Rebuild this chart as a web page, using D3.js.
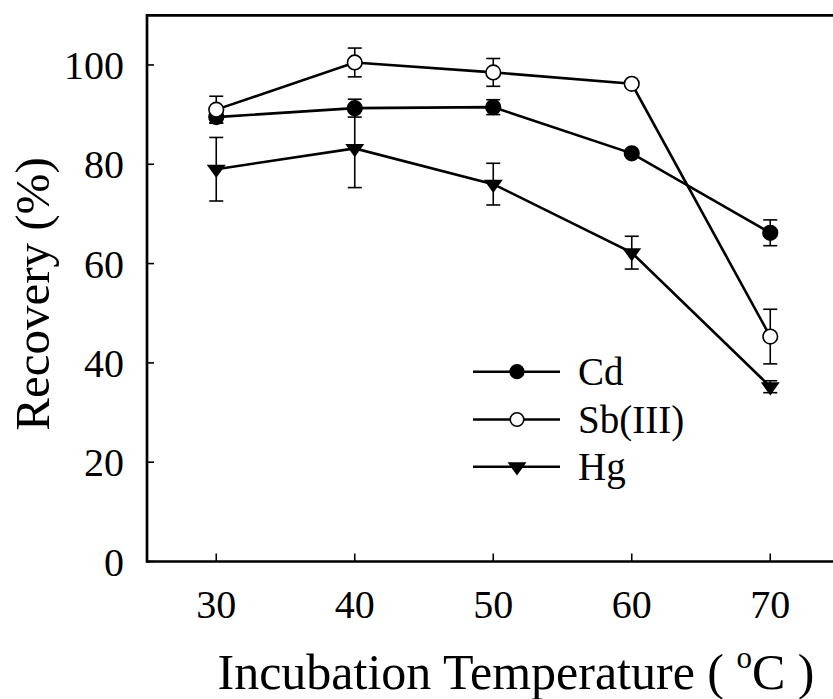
<!DOCTYPE html>
<html>
<head>
<meta charset="utf-8">
<script src="https://cdn.jsdelivr.net/npm/d3@7"></script>
<style>
  body { margin: 0; background: #fff; }
  svg { display: block; }
  text { font-family: "Liberation Serif", "Times New Roman", serif; fill: #000; }
</style>
</head>
<body>
<div id="chart"></div>
<script>
(function() {
  "use strict";

  // data
  var temps = [30, 40, 50, 60, 70];
  var cdValues = [89.5, 91.3, 91.5, 82.2, 66.2];
  var cdErrors = [1.2, 1.8, 1.5, 0.5, 2.6];
  var sbValues = [91.0, 100.5, 98.5, 96.2, 45.3];
  var sbErrors = [2.7, 2.9, 2.8, 0.5, 5.5];
  var hgValues = [79.0, 83.2, 76.0, 62.2, 35.2];
  var hgErrors = [6.4, 7.9, 4.2, 3.3, 1.2];
  var xTicks = [30, 40, 50, 60, 70];
  var yTicks = [0, 20, 40, 60, 80, 100];
  var seriesNames = ["Cd", "Sb(III)", "Hg"];

  var width = 833, height = 699;

  var svg = d3.select("#chart").append("svg")
    .attr("width", width)
    .attr("height", height);

  var x = d3.scaleLinear().domain([25, 75]).range([147, 839.5]);
  var y = d3.scaleLinear().domain([0, 110]).range([561.5, 15.3]);

  // down-pointing triangle, centred on its centroid
  var triangleDown = {
    draw: function(ctx, size) {
      var w = 9.5;
      ctx.moveTo(-w, -4.4);
      ctx.lineTo(w, -4.4);
      ctx.lineTo(0, 8.8);
      ctx.closePath();
    }
  };

  var series = [
    {name: seriesNames[0], values: cdValues, errors: cdErrors, marker: "circle", fill: "#000"},
    {name: seriesNames[1], values: sbValues, errors: sbErrors, marker: "circle", fill: "#fff"},
    {name: seriesNames[2], values: hgValues, errors: hgErrors, marker: "triangle", fill: "#000"}
  ];

  // frame: left axis, top line, bottom axis (open to the right)
  svg.append("line")
    .attr("x1", x(25)).attr("x2", width)
    .attr("y1", y(110)).attr("y2", y(110))
    .attr("stroke", "#000").attr("stroke-width", 2.7);
  svg.append("line")
    .attr("x1", x(25)).attr("x2", width)
    .attr("y1", y(0)).attr("y2", y(0))
    .attr("stroke", "#000").attr("stroke-width", 2.7);
  svg.append("line")
    .attr("x1", x(25)).attr("x2", x(25))
    .attr("y1", y(110) - 1.35).attr("y2", y(0) + 1.35)
    .attr("stroke", "#000").attr("stroke-width", 2.7);

  // ticks (inward)
  svg.append("g").selectAll("line").data(xTicks).join("line")
    .attr("x1", d => x(d)).attr("x2", d => x(d))
    .attr("y1", y(0)).attr("y2", y(0) - 8)
    .attr("stroke", "#000").attr("stroke-width", 1.6);
  svg.append("g").selectAll("line").data(yTicks).join("line")
    .attr("x1", x(25)).attr("x2", x(25) + 7)
    .attr("y1", d => y(d)).attr("y2", d => y(d))
    .attr("stroke", "#000").attr("stroke-width", 1.6);

  // tick labels
  svg.append("g").selectAll("text").data(xTicks).join("text")
    .attr("x", d => x(d))
    .attr("y", 618)
    .attr("text-anchor", "middle")
    .attr("font-size", 40)
    .text(d => d);
  svg.append("g").selectAll("text").data(yTicks).join("text")
    .attr("x", 124)
    .attr("y", d => y(d) + 14)
    .attr("text-anchor", "end")
    .attr("font-size", 40)
    .text(d => d);

  // axis titles
  svg.append("text")
    .attr("transform", "translate(49, 294) rotate(-90)")
    .attr("text-anchor", "middle")
    .attr("font-size", 49)
    .text("Recovery (%)");

  var xt = svg.append("text")
    .attr("x", 516)
    .attr("y", 689)
    .attr("text-anchor", "middle")
    .attr("font-size", 50);
  xt.append("tspan").text("Incubation Temperature ( ");
  xt.append("tspan").attr("font-size", 31).attr("dy", -21).text("o");
  xt.append("tspan").attr("dy", 21).text("C )");

  var line = d3.line()
    .x((d, i) => x(temps[i]))
    .y(d => y(d));

  function drawMarker(g, s, px, py, r) {
    if (s.marker === "circle") {
      g.append("circle")
        .attr("cx", px).attr("cy", py).attr("r", r)
        .attr("fill", s.fill)
        .attr("stroke", "#000").attr("stroke-width", 1.6);
    } else {
      g.append("path")
        .attr("d", d3.symbol().type(triangleDown)())
        .attr("transform", `translate(${px},${py})`)
        .attr("fill", s.fill);
    }
  }

  series.forEach(function(s) {
    var g = svg.append("g");

    // error bars
    s.values.forEach(function(v, i) {
      var e = s.errors[i];
      var cx = x(temps[i]);
      g.append("line")
        .attr("x1", cx).attr("x2", cx)
        .attr("y1", y(v - e)).attr("y2", y(v + e))
        .attr("stroke", "#000").attr("stroke-width", 1.6);
      [v - e, v + e].forEach(function(c) {
        g.append("line")
          .attr("x1", cx - 7).attr("x2", cx + 7)
          .attr("y1", y(c)).attr("y2", y(c))
          .attr("stroke", "#000").attr("stroke-width", 1.6);
      });
    });

    g.append("path")
      .attr("d", line(s.values))
      .attr("fill", "none")
      .attr("stroke", "#000")
      .attr("stroke-width", 2.6);

    s.values.forEach(function(v, i) {
      drawMarker(g, s, x(temps[i]), y(v), 7.3);
    });
  });

  // legend
  var legendY = [371.7, 419.5, 466.7];
  series.forEach(function(s, i) {
    var g = svg.append("g");
    g.append("line")
      .attr("x1", 473).attr("x2", 560)
      .attr("y1", legendY[i]).attr("y2", legendY[i])
      .attr("stroke", "#000").attr("stroke-width", 2.6);
    drawMarker(g, s, 517, legendY[i], 6.8);
    g.append("text")
      .attr("x", 578)
      .attr("y", legendY[i] + 13)
      .attr("font-size", 39)
      .text(s.name);
  });
})();
</script>
</body>
</html>
